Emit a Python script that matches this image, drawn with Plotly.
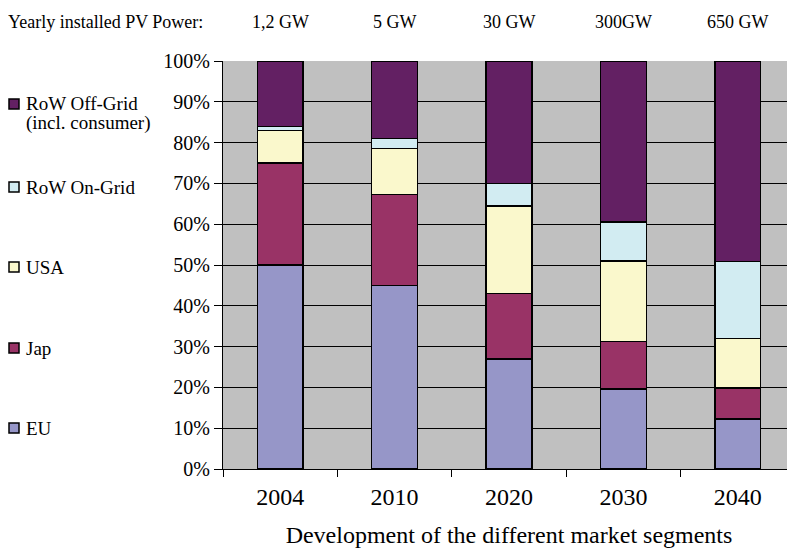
import plotly.graph_objects as go

years = ["2004", "2010", "2020", "2030", "2040"]
power_labels = ["1,2 GW", "5 GW", "30 GW", "300GW", "650 GW"]
eu = [50.0, 45.0, 27.0, 19.6, 12.2]
jap = [25.0, 22.3, 16.0, 11.7, 7.6]
usa = [8.0, 11.3, 21.5, 19.7, 12.2]
row_on = [1.0, 2.4, 5.5, 9.6, 18.9]
row_off = [16.0, 19.0, 30.0, 39.4, 49.1]

series = [
    ("EU", eu, "#9696C8"),
    ("Jap", jap, "#993366"),
    ("USA", usa, "#FAF8CC"),
    ("RoW On-Grid", row_on, "#D2ECF2"),
    ("RoW Off-Grid (incl. consumer)", row_off, "#632063"),
]

FONT = "Liberation Serif"

# page has an 8px body margin; compensate so the figure lands at the reference pixel positions
OFF = 8
W, H = 795 - OFF, 548 - OFF
L, T, B = 223 - OFF, 61 - OFF, (548 - OFF) - (469 - OFF)
plot_h = H - T - B
plot_w = W - L

def px_to_paper_x(px):
    return (px - OFF - L) / plot_w
def px_to_paper_y(py):
    return (H - B - (py - OFF)) / plot_h

fig = go.Figure()
for name, vals, col in series:
    fig.add_trace(go.Bar(
        x=years, y=vals, name=name, marker=dict(color=col, line=dict(color="black", width=1.5)),
        width=0.4, showlegend=False,
    ))

fig.update_layout(
    barmode="stack",
    width=W, height=H,
    margin=dict(l=L, r=0, t=T, b=B, autoexpand=False),
    plot_bgcolor="#C0C0C0",
    paper_bgcolor="white",
    font=dict(family=FONT, color="black"),
    xaxis=dict(
        type="category", automargin=False, range=[-0.5, 4.5],
        showline=True, linecolor="black", linewidth=1,
        ticks="outside", tickson="boundaries", ticklen=7, tickcolor="black",
        tickfont=dict(size=24, family=FONT), tickangle=0, ticklabelstandoff=6,
        title=dict(text="Development of the different market segments",
                   font=dict(size=24, family=FONT), standoff=22),
        showgrid=False,
    ),
    yaxis=dict(
        range=[0, 100], dtick=10, ticksuffix="%", automargin=False,
        showline=True, linecolor="black", linewidth=1,
        ticks="outside", ticklen=8, tickcolor="black",
        tickfont=dict(size=20, family=FONT),
        showgrid=True, gridcolor="black", gridwidth=1,
        zeroline=False,
    ),
)

# Top row labels
fig.add_annotation(text="Yearly installed PV Power:", xref="paper", yref="paper",
                   x=px_to_paper_x(6), y=px_to_paper_y(22), xanchor="left", yanchor="middle",
                   showarrow=False, font=dict(size=18, family=FONT))
for i, lab in enumerate(power_labels):
    fig.add_annotation(text=lab, xref="x", yref="paper", x=i, y=px_to_paper_y(22),
                       xanchor="center", yanchor="middle", showarrow=False,
                       font=dict(size=18, family=FONT))

# Manual legend
legend_items = [
    (["RoW Off-Grid", "(incl. consumer)"], "#632063", 104),
    (["RoW On-Grid"], "#D2ECF2", 187),
    (["USA"], "#FAF8CC", 267),
    (["Jap"], "#993366", 348),
    (["EU"], "#9696C8", 428),
]

for lines, col, ypx in legend_items:
    fig.add_shape(type="rect", xref="paper", yref="paper",
                  x0=px_to_paper_x(9), x1=px_to_paper_x(19),
                  y0=px_to_paper_y(ypx + 5), y1=px_to_paper_y(ypx - 5),
                  fillcolor=col, line=dict(color="black", width=1.5))
    for k, line in enumerate(lines):
        fig.add_annotation(text=line, xref="paper", yref="paper",
                           x=px_to_paper_x(24), y=px_to_paper_y(ypx + 19 * k),
                           xanchor="left", yanchor="middle", align="left",
                           showarrow=False, font=dict(size=19, family=FONT))

fig.write_html("out.html")
